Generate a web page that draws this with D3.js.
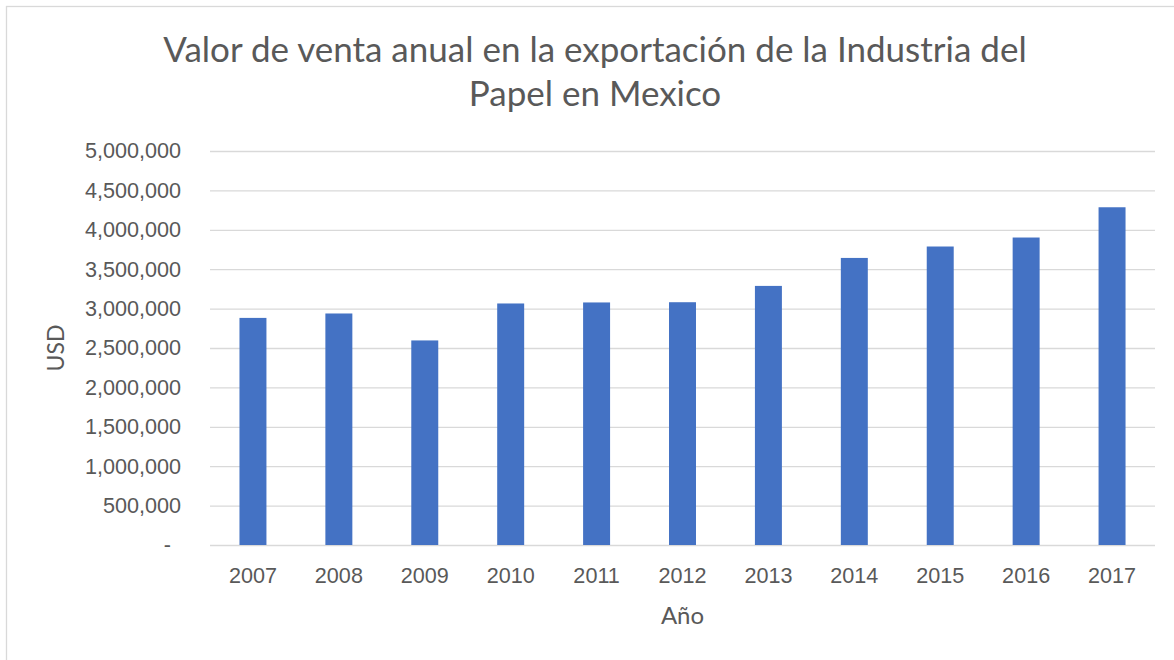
<!DOCTYPE html>
<html>
<head>
<meta charset="utf-8">
<script src="https://cdn.jsdelivr.net/npm/d3@7"></script>
<style>
  html, body { margin: 0; padding: 0; background: #fff; }
  svg { display: block; font-family: Lato, "Noto Sans", sans-serif; }
</style>
</head>
<body>
<svg id="chart" width="1174" height="660"></svg>
<script>
// Annual export sales of Mexico's paper industry (USD)
const years = ["2007", "2008", "2009", "2010", "2011", "2012", "2013", "2014", "2015", "2016", "2017"];
const exportValues = [2882000, 2938000, 2596000, 3065000, 3078000, 3081000, 3288000, 3643000, 3788000, 3902000, 4286000];
const yTicks = [0, 500000, 1000000, 1500000, 2000000, 2500000, 3000000, 3500000, 4000000, 4500000, 5000000];
const titleLines = ["Valor de venta anual en la exportación de la Industria del", "Papel en Mexico"];
const xTitle = "Año";
const yTitle = "USD";

const textColor = "#595959";
const gridColor = "#d9d9d9";
const barColor = "#4472c4";

const svg = d3.select("#chart");
const plot = { left: 210, right: 1155, top: 151, bottom: 545 };

// chart frame
svg.append("rect")
  .attr("x", 6.5).attr("y", 6.5)
  .attr("width", 1200).attr("height", 700)
  .attr("fill", "#fff")
  .attr("stroke", gridColor)
  .attr("stroke-width", 1.3);

const x = d3.scaleBand()
  .domain(years)
  .range([plot.left, plot.right])
  .paddingInner(0.686)
  .paddingOuter(0.343);

const y = d3.scaleLinear()
  .domain([0, 5000000])
  .range([plot.bottom, plot.top]);

const fmt = d3.format(",");

// horizontal gridlines + y labels
const yAxis = d3.axisLeft(y)
  .tickValues(yTicks)
  .tickSize(-(plot.right - plot.left))
  .tickPadding(29)
  .tickFormat(d => d === 0 ? "-" : fmt(d));

const gy = svg.append("g")
  .attr("transform", `translate(${plot.left},0)`)
  .call(yAxis);
gy.select(".domain").remove();
gy.selectAll(".tick line").attr("stroke", gridColor).attr("stroke-width", 1.3);
gy.selectAll(".tick text")
  .attr("fill", textColor)
  .attr("font-size", 21.6)
  .attr("dx", d => d === 0 ? -10 : 0);

// bars
svg.append("g")
  .selectAll("rect")
  .data(years.map((yr, i) => ({ yr, v: exportValues[i] })))
  .join("rect")
  .attr("x", d => x(d.yr))
  .attr("width", x.bandwidth())
  .attr("y", d => y(d.v))
  .attr("height", d => y(0) - y(d.v))
  .attr("fill", barColor);

// x axis labels
const xAxis = d3.axisBottom(x).tickSize(0).tickPadding(23);
const gx = svg.append("g")
  .attr("transform", `translate(0,${plot.bottom})`)
  .call(xAxis);
gx.select(".domain").remove();
gx.selectAll(".tick text")
  .attr("fill", textColor)
  .attr("font-size", 21.6);

// title
svg.append("text")
  .attr("x", 595)
  .attr("text-anchor", "middle")
  .attr("fill", textColor)
  .attr("font-size", 35)
  .selectAll("tspan")
  .data(titleLines)
  .join("tspan")
  .attr("x", 595)
  .attr("y", (d, i) => 62 + i * 43.5)
  .text(d => d);

// axis titles
svg.append("text")
  .attr("x", (plot.left + plot.right) / 2)
  .attr("y", 624)
  .attr("text-anchor", "middle")
  .attr("fill", textColor)
  .attr("font-size", 24)
  .text(xTitle);

svg.append("text")
  .attr("transform", `translate(64,${(plot.top + plot.bottom) / 2}) rotate(-90)`)
  .attr("text-anchor", "middle")
  .attr("fill", textColor)
  .attr("font-size", 23)
  .text(yTitle);
</script>
</body>
</html>
